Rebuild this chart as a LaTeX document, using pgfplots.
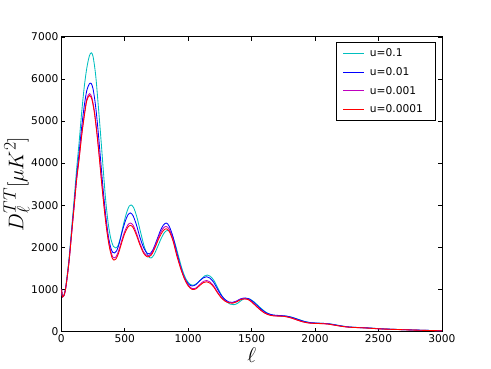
\documentclass[border=0pt]{standalone}
\usepackage[no-math]{fontspec}
\setmainfont{DejaVu Sans}
\usepackage{pgfplots}
\pgfplotsset{compat=1.18}
\definecolor{mplc}{rgb}{0,0.75,0.75}
\definecolor{mplb}{rgb}{0,0,1}
\definecolor{mplm}{rgb}{0.75,0,0.75}
\definecolor{mplr}{rgb}{1,0,0}

\begin{document}
\begin{tikzpicture}
% fixed page: 8in x 6in figure, axes at matplotlib default subplot position
\useasboundingbox (-72pt,-43.2pt) rectangle (504pt,388.8pt);
\begin{axis}[
    at={(0,0)}, anchor=south west,
    scale only axis,
    width=446.4pt, height=345.6pt,
    xmin=0, xmax=3000, ymin=0, ymax=7000,
    xtick={0,500,...,3000},
    ytick={0,1000,...,7000},
    tick align=inside,
    major tick length=4.5pt,
    tick style={black, line width=0.7pt},
    axis line style={line width=0.9pt},
    /pgf/number format/assume math mode=true,
    /pgf/number format/set thousands separator={},
    tick label style={font=\fontsize{12.5}{14}\selectfont},
    xlabel={$\ell$},
    ylabel={$D_\ell^{TT}[\mu K^2]$},
    label style={font=\fontsize{28}{32}\selectfont},
    xlabel style={at={(axis description cs:0.5,-0.082)}, anchor=center},
    ylabel style={at={(axis description cs:-0.118,0.5)}, anchor=center},
    legend cell align=left,
    legend image code/.code={\draw[#1, line width=1pt] (0pt,0pt) -- (24pt,0pt);},
    legend style={at={(1,1)}, anchor=north east, xshift=-7pt, yshift=-6pt,
        draw=black, line width=0.6pt, font=\fontsize{12.5}{14}\selectfont,
        row sep=7pt, inner xsep=8pt, inner ysep=6pt,
        nodes={inner xsep=7pt}},
    every axis plot/.append style={line width=1pt, smooth},
]
\addplot[mplc] coordinates {
(2,1000) (5,880) (10,820) (20,860) (30,980) (40,1190) (60,1720) (80,2420)
(100,3120) (120,3850) (140,4500) (160,5200) (180,5800) (200,6250) (220,6540)
(236,6620) (250,6530) (270,6100) (290,5400) (310,4650) (330,3850) (350,3100)
(370,2550) (390,2200) (410,2020) (428,1985) (445,2030) (465,2220) (490,2550)
(515,2830) (535,2980) (550,3005) (570,2940) (595,2720) (625,2350) (655,2000)
(685,1790) (707,1745) (730,1820) (760,2020) (790,2230) (815,2360) (840,2400)
(865,2330) (895,2100) (925,1770) (955,1450) (985,1230) (1015,1120) (1045,1100)
(1075,1160) (1105,1250) (1130,1320) (1152,1340) (1175,1310) (1205,1200)
(1235,1020) (1265,850) (1295,730) (1330,650) (1360,635) (1390,670) (1420,740)
(1455,790) (1485,770) (1520,700) (1570,560) (1620,440) (1670,385) (1720,370)
(1770,365) (1820,335) (1870,285) (1920,235) (1970,205) (2020,195) (2070,190)
(2120,178) (2170,152) (2220,126) (2270,106) (2320,96) (2420,83) (2520,63)
(2620,50) (2720,40) (2820,30) (2920,22) (3000,16)
};
\addlegendentry{u=0.1}
\addplot[mplb] coordinates {
(2,1000) (5,880) (10,820) (20,850) (30,965) (40,1160) (60,1670) (80,2330)
(100,3000) (120,3680) (140,4250) (160,4850) (180,5350) (200,5720) (220,5880)
(235,5890) (250,5760) (270,5350) (290,4750) (310,4050) (330,3350) (350,2750)
(370,2270) (390,1980) (405,1880) (420,1865) (435,1910) (455,2080) (480,2380)
(505,2630) (525,2770) (545,2815) (565,2750) (590,2550) (620,2230) (650,1980)
(675,1860) (695,1840) (720,1930) (750,2150) (780,2390) (805,2530) (828,2575)
(850,2500) (880,2250) (910,1880) (940,1540) (970,1280) (1000,1130) (1030,1080)
(1060,1110) (1090,1200) (1120,1275) (1145,1300) (1170,1270) (1200,1170)
(1230,1010) (1260,860) (1290,760) (1320,700) (1350,690) (1380,720) (1410,770)
(1445,795) (1475,780) (1510,710) (1560,570) (1610,450) (1660,395) (1710,380)
(1760,370) (1810,340) (1860,290) (1910,240) (1960,210) (2010,200) (2060,192)
(2110,180) (2160,155) (2210,128) (2260,108) (2310,97) (2410,84) (2510,64)
(2610,51) (2710,41) (2810,31) (2910,23) (3000,16)
};
\addlegendentry{u=0.01}
\addplot[mplm] coordinates {
(2,1000) (5,880) (10,820) (20,850) (30,960) (40,1150) (60,1650) (80,2300)
(100,2960) (120,3610) (140,4120) (160,4680) (180,5140) (200,5520) (222,5650)
(240,5560) (260,5240) (280,4740) (300,4140) (320,3490) (340,2900) (360,2400)
(380,2030) (400,1800) (415,1745) (430,1770) (450,1900) (475,2150) (500,2380)
(525,2535) (545,2575) (565,2525) (590,2350) (620,2090) (650,1880) (680,1800)
(710,1850) (740,2040) (770,2270) (800,2440) (825,2495) (850,2430) (880,2190)
(910,1830) (940,1520) (970,1270) (1000,1100) (1030,1020) (1060,1030)
(1090,1110) (1120,1190) (1145,1210) (1170,1180) (1200,1085) (1230,940)
(1260,815) (1290,730) (1320,690) (1350,680) (1380,710) (1410,760) (1440,780)
(1470,765) (1500,705) (1550,565) (1600,445) (1650,385) (1700,368) (1750,362)
(1800,332) (1850,282) (1900,232) (1950,202) (2000,192) (2050,187) (2100,177)
(2150,152) (2200,127) (2250,107) (2300,96) (2400,83) (2500,63) (2600,51)
(2700,41) (2800,31) (2900,23) (3000,16)
};
\addlegendentry{u=0.001}
\addplot[mplr] coordinates {
(2,1000) (5,880) (10,820) (20,850) (30,960) (40,1150) (60,1650) (80,2300)
(100,2950) (120,3600) (140,4100) (160,4650) (180,5100) (200,5480) (222,5605)
(240,5520) (260,5200) (280,4700) (300,4100) (320,3450) (340,2850) (360,2350)
(380,1980) (400,1750) (415,1695) (430,1720) (450,1850) (475,2100) (500,2330)
(525,2480) (545,2520) (565,2470) (590,2300) (620,2050) (650,1850) (680,1770)
(710,1820) (740,2000) (770,2220) (800,2380) (825,2440) (850,2380) (880,2150)
(910,1800) (940,1500) (970,1250) (1000,1080) (1030,1000) (1060,1010)
(1090,1090) (1120,1160) (1145,1180) (1170,1150) (1200,1060) (1230,920)
(1260,800) (1290,720) (1320,680) (1350,670) (1380,700) (1410,750) (1440,775)
(1470,760) (1500,700) (1550,560) (1600,440) (1650,380) (1700,365) (1750,360)
(1800,330) (1850,280) (1900,230) (1950,200) (2000,190) (2050,185) (2100,175)
(2150,150) (2200,125) (2250,105) (2300,95) (2400,82) (2500,62) (2600,50)
(2700,40) (2800,30) (2900,22) (3000,15)
};
\addlegendentry{u=0.0001}
\end{axis}
\end{tikzpicture}
\end{document}
